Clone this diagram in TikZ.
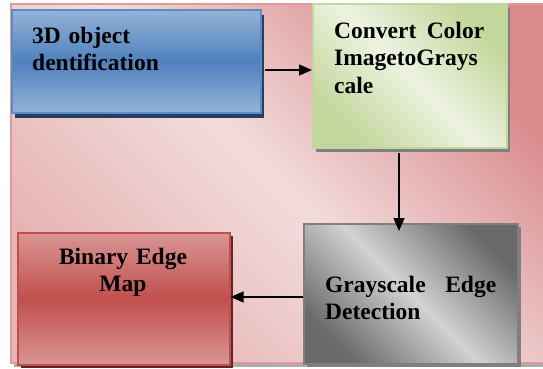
\documentclass[tikz,border=0pt]{standalone}
\usepackage{fontspec}
\setmainfont{Liberation Serif}
\usetikzlibrary{arrows.meta,shadows,shadings,calc}
\definecolor{bgTR}{HTML}{D98A8C}
\definecolor{bgMid}{HTML}{F3DCDC}
\definecolor{bgBL}{HTML}{E6B2B2}
\definecolor{bgborder}{HTML}{DC9C9C}
\definecolor{blueL}{HTML}{95B3D7}
\definecolor{blueM}{HTML}{4F81BD}
\definecolor{blueB}{HTML}{5B8CC6}
\definecolor{blueS}{HTML}{243F60}
\definecolor{greenD}{HTML}{C3D69B}
\definecolor{greenL}{HTML}{EDF2E1}
\definecolor{greyD}{HTML}{6A6A6A}
\definecolor{greyL}{HTML}{D2D2D2}
\definecolor{greyB}{HTML}{7F7F7F}
\definecolor{redL}{HTML}{D99594}
\definecolor{redM}{HTML}{C0504D}
\definecolor{redS}{HTML}{632523}
\begin{document}
\begin{tikzpicture}[x=1pt,y=1pt,
  box/.style={rectangle, inner sep=0pt, line width=1.6pt, anchor=north west},
  txt/.style={inner sep=0pt, font=\fontsize{23.5}{27.5}\selectfont\bfseries, text=black},
  arr/.style={line width=1.3pt, -{Triangle[length=13pt,width=11pt]}}]
\useasboundingbox (0,0) rectangle (543,368);
% background panel
\fill[gray!65] (14,1.5) rectangle (546,5);
\draw[bgborder, line width=1.5pt, top color=bgTR, bottom color=bgBL, middle color=bgMid, shading angle=-45]
  (10.75,364.25) rectangle (548,5);
% boxes
\node[box, draw=blueB, top color=blueL, bottom color=blueL, middle color=blueM,
  minimum width=249, minimum height=103,
  drop shadow={shadow xshift=3.5pt, shadow yshift=-5pt, fill=blueS, opacity=1}] (b1) at (11,359) {};
\node[box, draw=greenD, top color=greenD, bottom color=greenD, middle color=greenL, shading angle=-45,
  minimum width=194, minimum height=144,
  drop shadow={shadow xshift=3pt, shadow yshift=-4pt, fill=gray, opacity=1}] (b2) at (312,365) {};
\node[box, draw=greyB, top color=greyD, bottom color=greyD, middle color=greyL, shading angle=-45,
  minimum width=214, minimum height=140,
  drop shadow={shadow xshift=3pt, shadow yshift=-3pt, fill=gray, opacity=1}] (b3) at (303,145) {};
\node[box, draw=redM, top color=redL, bottom color=redL, middle color=redM,
  minimum width=212, minimum height=132,
  drop shadow={shadow xshift=3pt, shadow yshift=-3pt, fill=redS, opacity=1}] (b4) at (17,136) {};
% texts
\node[txt, anchor=base west, text width=200, align=left] (t1) at (32,325) {3D object\\dentification};
\node[txt, anchor=base west, text width=150, align=left] (t2) at (334,330)
  {Convert\hfill Color\\ImagetoGrays\\cale};
\node[txt, anchor=base west, text width=171, align=left] (t3) at (325,76)
  {Grayscale\hfill Edge\\Detection};
\node[txt, anchor=base, text width=200, align=center] (t4) at (123,104) {Binary Edge\\Map};
% connectors
\coordinate (y1) at (0,298);
\coordinate (x2) at (399,0);
\coordinate (y3) at (0,71);
\draw[arr] ($(b1.east |- y1)+(3.5,0)$) -- (b2.west |- y1);
\draw[arr] ($(b2.south -| x2)+(0,-4)$) -- ($(b3.north -| x2)+(0,-8)$);
\draw[arr] (b3.west |- y3) -- (b4.east |- y3);
\end{tikzpicture}
\end{document}
